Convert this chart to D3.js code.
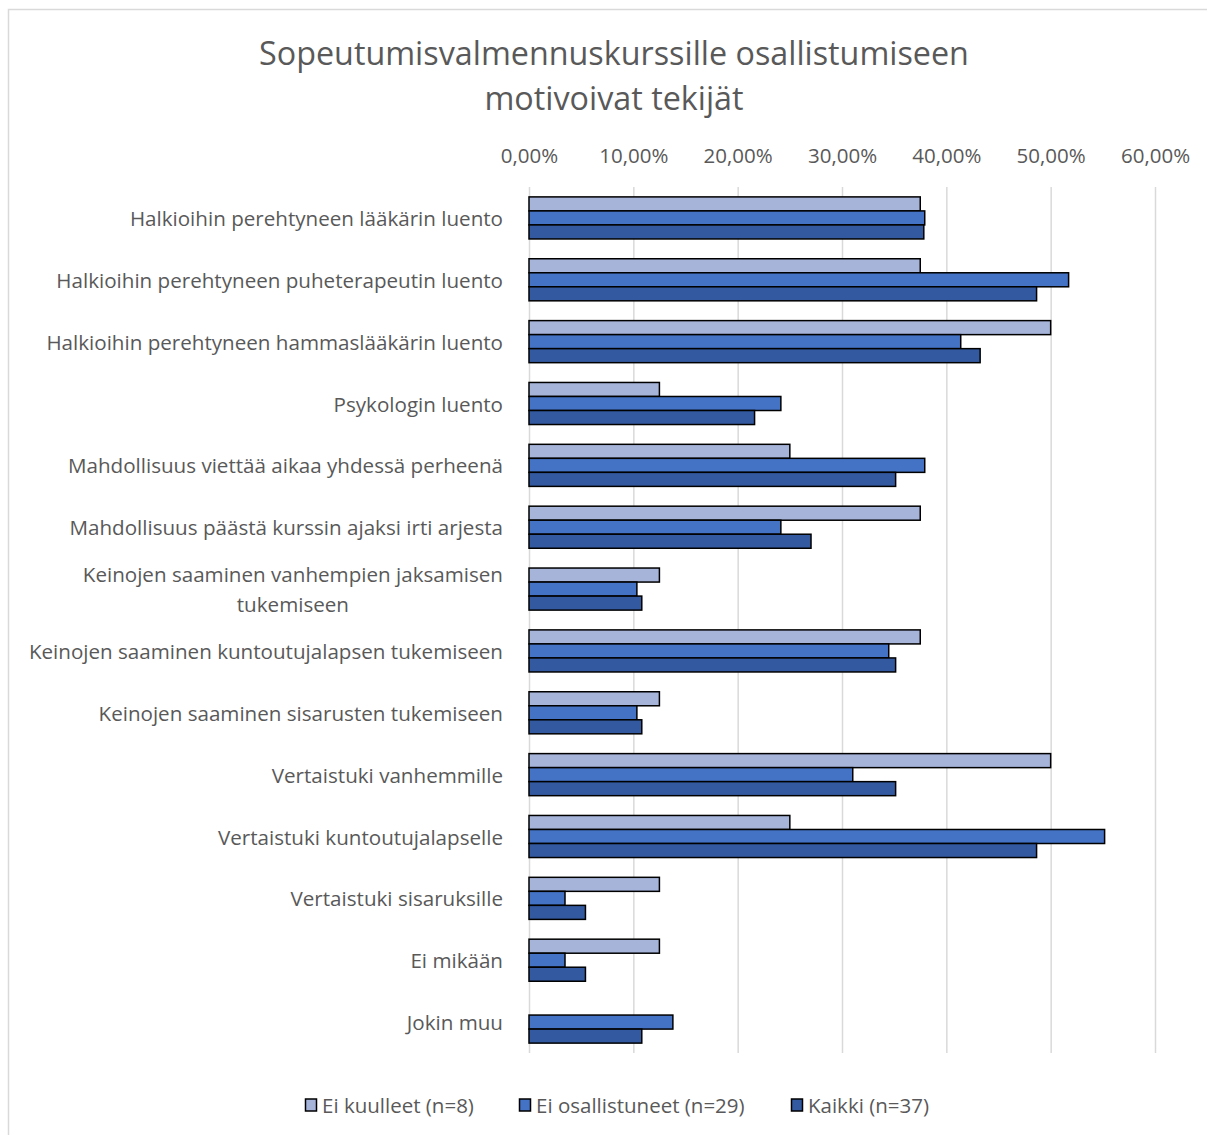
<!DOCTYPE html>
<html>
<head>
<meta charset="utf-8">
<script src="https://cdn.jsdelivr.net/npm/d3@7"></script>
<style>
  body { margin: 0; background: #fff; }
  svg { display: block; font-family: "Open Sans", Lato, sans-serif; }
</style>
</head>
<body>
<svg class="chart"></svg>
<script>
// data (percent)
const categories = [
  "Halkioihin perehtyneen lääkärin luento",
  "Halkioihin perehtyneen puheterapeutin luento",
  "Halkioihin perehtyneen hammaslääkärin luento",
  "Psykologin luento",
  "Mahdollisuus viettää aikaa yhdessä perheenä",
  "Mahdollisuus päästä kurssin ajaksi irti arjesta",
  "Keinojen saaminen vanhempien jaksamisen\ntukemiseen",
  "Keinojen saaminen kuntoutujalapsen tukemiseen",
  "Keinojen saaminen sisarusten tukemiseen",
  "Vertaistuki vanhemmille",
  "Vertaistuki kuntoutujalapselle",
  "Vertaistuki sisaruksille",
  "Ei mikään",
  "Jokin muu"
];
const seriesNames = ["Ei kuulleet (n=8)", "Ei osallistuneet (n=29)", "Kaikki (n=37)"];
const eiKuulleet = [37.5, 37.5, 50, 12.5, 25, 37.5, 12.5, 37.5, 12.5, 50, 25, 12.5, 12.5, 0];
const eiOsallistuneet = [37.93, 51.72, 41.38, 24.14, 37.93, 24.14, 10.34, 34.48, 10.34, 31.03, 55.17, 3.45, 3.45, 13.79];
const kaikki = [37.84, 48.65, 43.24, 21.62, 35.14, 27.03, 10.81, 35.14, 10.81, 35.14, 48.65, 5.41, 5.41, 10.81];
const ticks = [0, 10, 20, 30, 40, 50, 60];
const colors = ["#a6b4da", "#4472c4", "#335aa0"];

const seriesValues = [eiKuulleet, eiOsallistuneet, kaikki];
const rows = categories.map((c, i) => ({
  cat: c,
  vals: seriesNames.map((s, j) => ({ key: s, value: seriesValues[j][i] }))
}));

const W = 1207, H = 1135;
const plot = { left: 529, right: 1155, top: 187, bottom: 1053 };
const textColor = "#595959";

const svg = d3.select(".chart")
  .attr("width", W)
  .attr("height", H)
  .attr("viewBox", [0, 0, W, H]);

// chart border
svg.append("rect")
  .attr("x", 8.5).attr("y", 9.5)
  .attr("width", W + 10).attr("height", H + 10)
  .attr("fill", "none")
  .attr("stroke", "#d9d9d9")
  .attr("stroke-width", 1.5);

// title
svg.append("text")
  .attr("x", 614)
  .attr("fill", textColor)
  .attr("font-size", 32.3)
  .attr("text-anchor", "middle")
  .selectAll("tspan")
  .data(["Sopeutumisvalmennuskurssille osallistumiseen", "motivoivat tekijät"])
  .join("tspan")
  .attr("x", 614)
  .attr("y", (d, i) => 65 + i * 45)
  .text(d => d);

const x = d3.scaleLinear().domain([0, 60]).range([plot.left, plot.right]);
const y0 = d3.scaleBand().domain(categories).range([plot.top, plot.bottom])
  .paddingInner(0.32).paddingOuter(0.16);
const y1 = d3.scaleBand().domain(seriesNames).range([0, y0.bandwidth()]);
const color = d3.scaleOrdinal().domain(seriesNames).range(colors);

const fmt = d3.formatLocale({ decimal: ",", thousands: " ", grouping: [3], currency: ["", "€"] });
const pct = v => fmt.format(".2f")(v) + "%";

// gridlines
svg.append("g")
  .attr("transform", `translate(0,${plot.bottom})`)
  .call(d3.axisBottom(x).tickValues(ticks).tickSize(-(plot.bottom - plot.top)).tickFormat(""))
  .call(g => g.select(".domain").remove())
  .call(g => g.selectAll("line").attr("stroke", "#d9d9d9").attr("stroke-width", 1.5));

// tick labels on top
svg.append("g")
  .attr("transform", `translate(0,${plot.top})`)
  .call(d3.axisTop(x).tickValues(ticks).tickSize(0).tickPadding(24).tickFormat(pct))
  .call(g => g.select(".domain").remove())
  .call(g => g.selectAll("text")
    .attr("fill", textColor)
    .attr("font-size", 20.5)
    .attr("font-family", "'Open Sans', sans-serif"));

// bars
svg.append("g")
  .selectAll("g")
  .data(rows)
  .join("g")
  .attr("transform", d => `translate(0,${y0(d.cat)})`)
  .selectAll("rect")
  .data(d => d.vals.filter(v => v.value > 0))
  .join("rect")
  .attr("x", x(0))
  .attr("y", d => y1(d.key))
  .attr("width", d => x(d.value) - x(0))
  .attr("height", y1.bandwidth())
  .attr("fill", d => color(d.key))
  .attr("stroke", "#000")
  .attr("stroke-width", 1.5);

// category labels
const labels = svg.append("g")
  .attr("fill", textColor)
  .attr("font-size", 20.6);
categories.forEach(c => {
  const lines = c.split("\n");
  const cy = y0(c) + y0.bandwidth() / 2;
  const t = labels.append("text").attr("dominant-baseline", "central");
  lines.forEach((ln, i) => {
    t.append("tspan")
      .attr("y", cy + (i - (lines.length - 1) / 2) * 30)
      .text(ln);
  });
  const maxW = d3.max(t.selectAll("tspan").nodes(), n => n.getComputedTextLength());
  t.attr("text-anchor", "middle");
  t.selectAll("tspan").attr("x", 503 - maxW / 2);
});

// legend
const legendX = [305, 519, 791];
const legend = svg.append("g")
  .selectAll("g")
  .data(seriesNames)
  .join("g")
  .attr("transform", (d, i) => `translate(${legendX[i]},1105)`);
legend.append("rect")
  .attr("x", 0.5).attr("y", -6)
  .attr("width", 11).attr("height", 12)
  .attr("fill", d => color(d))
  .attr("stroke", "#000")
  .attr("stroke-width", 1.5);
legend.append("text")
  .attr("x", 17)
  .attr("dominant-baseline", "central")
  .attr("fill", textColor)
  .attr("font-size", 20.5)
  .text(d => d);
</script>
</body>
</html>
